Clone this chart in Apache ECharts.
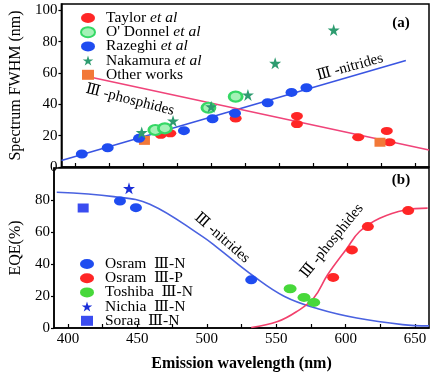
<!DOCTYPE html>
<html><head><meta charset="utf-8">
<script src="https://cdn.jsdelivr.net/npm/echarts@6/dist/echarts.min.js"></script>
<style>html,body{margin:0;padding:0;background:#fff}#c{width:432px;height:376px}</style>
</head><body><div id="c"></div>
<script>
// ---- data ----
const xTickLabels = [400, 450, 500, 550, 600, 650];
const xTickMarks = [400, 425, 450, 475, 500, 525, 550, 575, 600, 625, 650];

// Panel (a): spectrum FWHM (nm)
const taylorX = [463, 470, 518, 563, 563, 608, 629, 631];
const taylorY = [20.5, 21.5, 31, 32.5, 27.4, 19, 23, 15.8];
const odonnelX = [459, 466, 498, 518];
const odonnelY = [23.6, 24.7, 37.8, 44.9];
const razeghiX = [405, 424, 447, 480, 501, 517.5, 541.5, 559, 570];
const razeghiY = [8.3, 12.3, 18.3, 23.2, 30.8, 34.3, 41, 47.6, 50.6];
const nakamuraX = [449, 472, 500, 527, 547, 590];
const nakamuraY = [22, 29.4, 38.5, 46, 66.2, 87.4];
const otherX = [451, 624];
const otherY = [17, 15.8];
const nitrideFitX = [390, 643];
const nitrideFitY = [4.2, 68];
const phosphideFitX = [410, 660];
const phosphideFitY = [57.6, 10.8];

// Panel (b): EQE (%)
const osramNX = [437.5, 449, 532];
const osramNY = [79.4, 75.2, 30.1];
const osramPX = [591, 604.5, 616, 645];
const osramPY = [31.6, 48.8, 63.4, 73.4];
const toshibaX = [560, 570, 577];
const toshibaY = [24.5, 19.1, 16];
const nichiaX = [444];
const nichiaY = [87.3];
const soraaX = [411];
const soraaY = [75];
const nitrideCurveX = [392, 433, 459, 497, 508, 534, 556, 580, 608, 641, 660];
const nitrideCurveY = [84.8, 82.1, 77.4, 57.1, 49.9, 32.2, 19.7, 12.0, 6.2, 2.1, 1.3];
const phosphideCurveX = [532, 551, 565, 577, 587, 601, 610, 624.5, 643, 659];
const phosphideCurveY = [0.3, 4, 10.4, 18.7, 33.3, 49.9, 60.3, 68.6, 73.8, 74.9];

// ---- helpers / styles ----
const zip = (xs, ys) => xs.map((x, i) => [x, ys[i]]);
const SERIF = '"Liberation Serif","DejaVu Serif",serif';
const STAR = 'path://M50,2 L61,36 L97,36 L68,57 L79,91 L50,70 L21,91 L32,57 L3,36 L39,36 Z';
const ELLIPSE = 'path://M0,5 A7,5 0 1,0 14,5 A7,5 0 1,0 0,5 Z';
const SQUARE = 'path://M0,0 L12,0 L12,10 L0,10 Z';

const C = {
  red: '#ff2626', blue: '#1f4cf0', ringFill: '#a4f2b6', ringBorder: '#35d865',
  teal: '#2e9c70', orange: '#f27838', blueLine: '#3a55e2', pinkLine: '#f0447a',
  green: '#47d83a', curveBlue: '#4a62e0', curveRed: '#f2406c', navy: '#1a2ed8', sq: '#3a4cf0'
};

const xAxisBase = (gi, showLabels) => ({
  type: 'value', gridIndex: gi, min: 390, max: 660,
  axisLine: { show: true, lineStyle: { color: '#000', width: 1.5 } },
  axisTick: { show: true, inside: true, length: 4, customValues: xTickMarks, lineStyle: { color: '#000', width: 1.2 } },
  axisLabel: { show: showLabels, customValues: xTickLabels, color: '#000', fontFamily: SERIF, fontSize: 15, margin: 4 },
  splitLine: { show: false }
});

const yAxisBase = (gi, max, name, gap) => ({
  type: 'value', gridIndex: gi, min: 0, max: max, interval: 20,
  name: name, nameLocation: 'middle', nameGap: gap,
  nameTextStyle: { color: '#000', fontFamily: SERIF, fontSize: 16 },
  axisLine: { show: true, lineStyle: { color: '#000', width: 1.5 } },
  axisTick: { show: true, inside: false, length: 3, lineStyle: { color: '#000', width: 1.2 } },
  axisLabel: { color: '#000', fontFamily: SERIF, fontSize: 15, margin: 4, showMaxLabel: false },
  splitLine: { show: false }
});

const scatter = (name, xs, ys, xi, symbol, size, color, extra) => Object.assign({
  name, type: 'scatter', xAxisIndex: xi, yAxisIndex: xi, data: zip(xs, ys),
  symbol, symbolSize: size, itemStyle: { color, opacity: 1 }, z: 5
}, extra || {});

const line = (xs, ys, xi, color, smooth) => ({
  type: 'line', xAxisIndex: xi, yAxisIndex: xi, data: zip(xs, ys), showSymbol: false,
  smooth: smooth ? 0.4 : false, lineStyle: { color, width: 1.6 }, z: 3, silent: true
});

const legendText = { color: '#000', fontFamily: SERIF, fontSize: 15.5, lineHeight: 14.5,
  rich: { i: { fontStyle: 'italic', color: '#000', fontFamily: SERIF, fontSize: 15.5, lineHeight: 14.5 } } };

const chart = echarts.init(document.getElementById('c'), null, { renderer: 'canvas' });
chart.setOption({
  animation: false,
  backgroundColor: '#fff',
  grid: [
    { left: 50, right: 3, top: 4, height: 163, show: true, borderColor: '#000', borderWidth: 1.5 },
    { left: 50, right: 3, top: 168, height: 160, show: true, borderColor: '#000', borderWidth: 1.5 }
  ],
  xAxis: [
    xAxisBase(0, false),
    Object.assign(xAxisBase(1, true), {
      name: 'Emission wavelength (nm)', nameLocation: 'middle', nameGap: 28,
      nameTextStyle: { color: '#000', fontFamily: SERIF, fontSize: 16, fontWeight: 'bold' }
    })
  ],
  yAxis: [
    yAxisBase(0, 104, 'Spectrum FWHM (nm)', 32),
    yAxisBase(1, 100, 'EQE(%)', 30)
  ],
  legend: [
    {
      orient: 'vertical', left: 75, top: 5, itemWidth: 26, itemHeight: 10, itemGap: -1.8,
      textStyle: legendText, selectedMode: false,
      formatter: n => n.indexOf(' et al') >= 0 ? n.replace(' et al', '') + ' {i|et al}' : n,
      data: [
        { name: 'Taylor et al', icon: ELLIPSE },
        { name: "O' Donnel et al", icon: ELLIPSE },
        { name: 'Razeghi et al', icon: ELLIPSE },
        { name: 'Nakamura et al', icon: STAR },
        { name: 'Other works', icon: SQUARE }
      ]
    },
    {
      orient: 'vertical', left: 75, top: 251, itemWidth: 26, itemHeight: 10, itemGap: -1.8,
      textStyle: legendText, selectedMode: false,
      data: [
        { name: 'Osram  \u2162-N', icon: ELLIPSE },
        { name: 'Osram  \u2162-P', icon: ELLIPSE },
        { name: 'Toshiba  \u2162-N', icon: ELLIPSE },
        { name: 'Nichia  \u2162-N', icon: STAR },
        { name: 'Soraa  \u2162-N', icon: SQUARE }
      ]
    }
  ],
  series: [
    line(nitrideFitX, nitrideFitY, 0, C.blueLine),
    line(phosphideFitX, phosphideFitY, 0, C.pinkLine),
    scatter('Taylor et al', taylorX, taylorY, 0, 'circle', [12, 8], C.red),
    scatter('Other works', otherX, otherY, 0, 'rect', [11, 9], C.orange),
    scatter("O' Donnel et al", odonnelX, odonnelY, 0, 'circle', [13, 10], C.ringFill,
      { itemStyle: { color: C.ringFill, borderColor: C.ringBorder, borderWidth: 2.5, opacity: 1 } }),
    scatter('Razeghi et al', razeghiX, razeghiY, 0, 'circle', [12, 9], C.blue),
    scatter('Nakamura et al', nakamuraX, nakamuraY, 0, STAR, 12, C.teal),

    line(nitrideCurveX, nitrideCurveY, 1, C.curveBlue, true),
    line(phosphideCurveX, phosphideCurveY, 1, C.curveRed, true),
    scatter('Osram  \u2162-N', osramNX, osramNY, 1, 'circle', [12, 9], C.blue),
    scatter('Osram  \u2162-P', osramPX, osramPY, 1, 'circle', [12, 9], C.red),
    scatter('Toshiba  \u2162-N', toshibaX, toshibaY, 1, 'circle', [13, 9], C.green),
    scatter('Nichia  \u2162-N', nichiaX, nichiaY, 1, STAR, 12, C.navy),
    scatter('Soraa  \u2162-N', soraaX, soraaY, 1, 'rect', [11, 9], C.sq)
  ],
  graphic: [
    { type: 'text', x: 130, y: 100, rotation: -0.25, style: { text: '\u2162 -phosphides', align: 'center', verticalAlign: 'middle', fill: '#000', font: '15px ' + SERIF } },
    { type: 'text', x: 350, y: 67, rotation: 0.27, style: { text: '\u2162 -nitrides', align: 'center', verticalAlign: 'middle', fill: '#000', font: '15px ' + SERIF } },
    { type: 'text', x: 401, y: 23, style: { text: '(a)', align: 'center', verticalAlign: 'middle', fill: '#000', font: 'bold 15px ' + SERIF } },
    { type: 'text', x: 222, y: 238, rotation: -0.72, style: { text: '\u2162 -nitrides', align: 'center', verticalAlign: 'middle', fill: '#000', font: '15px ' + SERIF } },
    { type: 'text', x: 332, y: 241, rotation: 0.89, style: { text: '\u2162 -phosphides', align: 'center', verticalAlign: 'middle', fill: '#000', font: '15px ' + SERIF } },
    { type: 'text', x: 401, y: 180, style: { text: '(b)', align: 'center', verticalAlign: 'middle', fill: '#000', font: 'bold 15px ' + SERIF } }
  ]
});
</script></body></html>
